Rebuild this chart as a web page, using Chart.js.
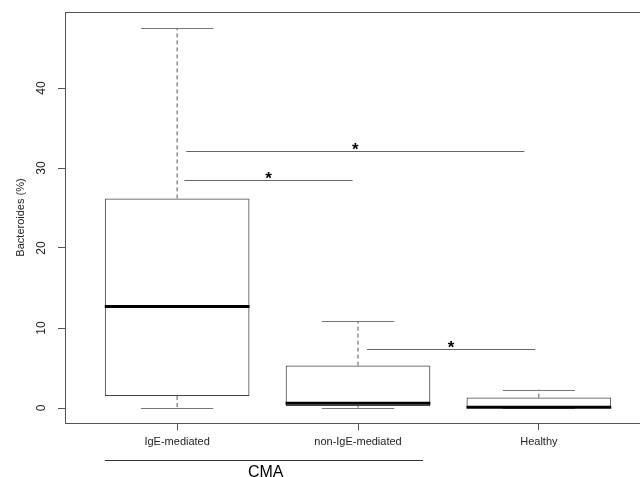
<!DOCTYPE html>
<html>
<head>
<meta charset="utf-8">
<script src="https://cdn.jsdelivr.net/npm/chart.js@4/dist/chart.umd.min.js"></script>
<style>
  html, body { margin: 0; padding: 0; background: #fff; overflow: hidden; }
  #wrap { width: 640px; height: 477px; overflow: hidden; }
  #box { width: 660px; height: 477px; }
</style>
</head>
<body>
<div id="wrap"><div id="box"><canvas id="boxChart"></canvas></div></div>
<script>
// groups and box statistics (% Bacteroides)
const categories = ['IgE-mediated', 'non-IgE-mediated', 'Healthy'];
const lowerWhisker = [0, 0.05, 0];
const q1 = [1.5, 0.25, 0.05];
const median = [12.7, 0.6, 0.1];
const q3 = [26.2, 5.3, 1.3];
const upperWhisker = [47.5, 10.9, 2.3];
const yTicks = [0, 10, 20, 30, 40];

// significance bars: from group pos, to group pos, height
const sigFrom = [1.05, 1.04, 2.05];
const sigTo = [2.92, 1.97, 2.98];
const sigY = [32.1, 28.5, 7.4];
const sigLabel = ['*', '*', '*'];

// bracket under first two groups
const groupSpan = [0.6, 2.36];
const groupLabel = 'CMA';

const boxData = categories.map((c, i) => ({ x: i + 1, y: [q1[i], q3[i]] }));

const boxExtras = {
  id: 'boxExtras',
  afterDatasetsDraw(chart) {
    const ctx = chart.ctx;
    const xs = chart.scales.x, ys = chart.scales.y;
    const area = chart.chartArea;
    const meta = chart.getDatasetMeta(0);
    ctx.save();
    meta.data.forEach((bar, i) => {
      const cx = xs.getPixelForValue(i + 1);
      const half = bar.width / 2;
      // whiskers (dashed)
      ctx.strokeStyle = '#555';
      ctx.lineWidth = 1;
      ctx.setLineDash([4, 3]);
      ctx.beginPath();
      ctx.moveTo(cx, ys.getPixelForValue(q3[i]));
      ctx.lineTo(cx, ys.getPixelForValue(upperWhisker[i]));
      ctx.moveTo(cx, ys.getPixelForValue(q1[i]));
      ctx.lineTo(cx, ys.getPixelForValue(lowerWhisker[i]));
      ctx.stroke();
      ctx.setLineDash([]);
      // caps
      ctx.strokeStyle = '#777';
      ctx.beginPath();
      [upperWhisker[i], lowerWhisker[i]].forEach(v => {
        const py = Math.round(ys.getPixelForValue(v)) + 0.5;
        ctx.moveTo(cx - half / 2, py);
        ctx.lineTo(cx + half / 2, py);
      });
      ctx.stroke();
      // median
      ctx.strokeStyle = '#000';
      ctx.lineWidth = 3;
      ctx.beginPath();
      const my = ys.getPixelForValue(median[i]);
      ctx.moveTo(cx - half, my);
      ctx.lineTo(cx + half, my);
      ctx.stroke();
    });
    // significance lines
    ctx.lineWidth = 1;
    ctx.strokeStyle = '#666';
    ctx.fillStyle = '#000';
    ctx.font = 'bold 17px "Liberation Sans", Arial, sans-serif';
    ctx.textAlign = 'center';
    ctx.textBaseline = 'alphabetic';
    sigY.forEach((v, i) => {
      const py = Math.round(ys.getPixelForValue(v)) + 0.5;
      const x0 = xs.getPixelForValue(sigFrom[i]);
      const x1 = xs.getPixelForValue(sigTo[i]);
      ctx.beginPath();
      ctx.moveTo(x0, py);
      ctx.lineTo(x1, py);
      ctx.stroke();
      ctx.fillText(sigLabel[i], (x0 + x1) / 2, py + 3);
    });
    // plot frame
    ctx.strokeStyle = '#555';
    ctx.strokeRect(Math.round(area.left) + 0.5, Math.round(area.top) + 0.5,
      Math.round(area.right - area.left), Math.round(area.bottom - area.top));
    // group bracket
    const gy = area.bottom + 37.5;
    ctx.strokeStyle = '#333';
    ctx.beginPath();
    ctx.moveTo(xs.getPixelForValue(groupSpan[0]), gy);
    ctx.lineTo(xs.getPixelForValue(groupSpan[1]), gy);
    ctx.stroke();
    ctx.font = '16px "Liberation Sans", Arial, sans-serif';
    ctx.textBaseline = 'middle';
    ctx.fillText(groupLabel, xs.getPixelForValue((groupSpan[0] + groupSpan[1]) / 2 + 0.01), gy + 12);
    ctx.restore();
  }
};

new Chart(document.getElementById('boxChart'), {
  type: 'bar',
  data: {
    datasets: [{
      data: boxData,
      backgroundColor: 'rgba(255,255,255,0)',
      borderColor: '#444',
      borderWidth: 1,
      borderSkipped: false,
      categoryPercentage: 1,
      barPercentage: 0.8
    }]
  },
  options: {
    responsive: true,
    maintainAspectRatio: false,
    animation: false,
    layout: { padding: { top: 12, right: 9, left: 0, bottom: 0 } },
    plugins: { legend: { display: false }, tooltip: { enabled: false } },
    scales: {
      x: {
        type: 'linear',
        min: 0.38,
        max: 3.62,
        offset: false,
        afterBuildTicks(scale) { scale.ticks = categories.map((c, i) => ({ value: i + 1 })); },
        afterFit(scale) { scale.height = 54; scale.paddingLeft = 0; scale.paddingRight = 0; },
        border: { display: false },
        grid: { offset: false, drawOnChartArea: false, drawTicks: true, tickLength: 7, color: '#555' },
        ticks: {
          callback: (v) => categories[v - 1],
          color: '#222',
          padding: 5,
          maxRotation: 0,
          font: { family: '"Liberation Sans", Arial, sans-serif', size: 11 }
        }
      },
      y: {
        min: -1.875,
        max: 49.5,
        afterBuildTicks(scale) { scale.ticks = yTicks.map(v => ({ value: v })); },
        afterFit(scale) { scale.width = 65; scale.paddingTop = 0; scale.paddingBottom = 0; },
        border: { display: false },
        grid: { drawOnChartArea: false, drawTicks: true, tickLength: 7, color: '#555' },
        title: {
          display: true,
          text: 'Bacteroides (%)',
          color: '#222',
          padding: { top: 14, bottom: 0 },
          font: { family: '"Liberation Sans", Arial, sans-serif', size: 11 }
        },
        ticks: {
          color: '#222',
          minRotation: 90,
          maxRotation: 90,
          crossAlign: 'center',
          padding: 10,
          font: { family: '"Liberation Sans", Arial, sans-serif', size: 12 }
        }
      }
    }
  },
  plugins: [boxExtras]
});
</script>
</body>
</html>
